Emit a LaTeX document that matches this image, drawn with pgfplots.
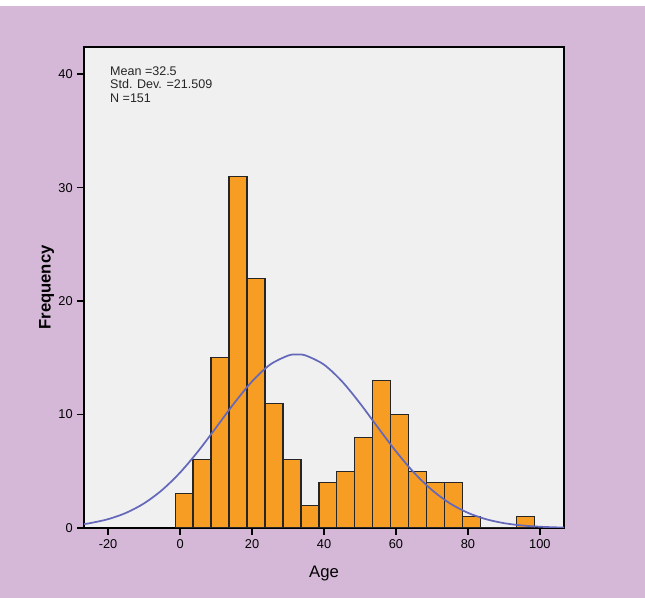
\documentclass[border=0pt]{standalone}
\usepackage{pgfplots}
\pgfplotsset{compat=1.18}
\usepackage{fontspec}
\setmainfont{Liberation Sans}
\definecolor{bgl}{RGB}{213,184,216}
\definecolor{plotbg}{RGB}{240,240,240}
\definecolor{barc}{RGB}{247,157,35}
\definecolor{curvec}{RGB}{100,104,186}
\begin{document}
\begin{tikzpicture}
\useasboundingbox (0pt,0pt) rectangle (483.75pt,448.5pt);
\fill[white] (0pt,0pt) rectangle (483.75pt,448.5pt);
\fill[bgl] (0pt,0pt) rectangle (483.75pt,444pt);
\begin{axis}[
  at={(63pt,52.5pt)}, anchor=south west,
  scale only axis, width=360pt, height=360.75pt,
  xmin=-26.7, xmax=106.7, ymin=0, ymax=42.4,
  axis background/.style={fill=plotbg},
  axis line style={black, line width=1.1pt},
  xtick={-20,0,20,40,60,80,100},
  ytick={0,10,20,30,40},
  xtick pos=bottom, ytick pos=left,
  tick align=outside,
  major tick length=5pt,
  tick style={black, line width=1.1pt},
  /pgf/number format/assume math mode=true,
  ticklabel style={font=\fontsize{9.6}{11}\selectfont},
  xlabel={Age}, ylabel={\textbf{Frequency}},
  label style={font=\fontsize{12.5}{14}\selectfont},
  xlabel style={at={(axis description cs:0.5,0)}, anchor=center, yshift=-34pt},
  ylabel style={at={(axis description cs:0,0.5)}, anchor=center, yshift=28pt},
  clip=true,
]
\addplot[ybar interval, fill=barc, draw=black!85, line width=0.8pt] coordinates {
(-1.4,3) (3.6,6) (8.6,15) (13.6,31) (18.6,22) (23.6,11) (28.6,6) (33.6,2)
(38.6,4) (43.6,5) (48.6,8) (53.6,13) (58.6,10) (63.6,5) (68.6,4) (73.6,4)
(78.6,1) (83.6,0) (88.6,0) (93.6,1) (98.6,0)
};
\addplot[curvec, line width=1.3pt, smooth] coordinates {
(-26.7,0.346) (-25,0.429) (-20,0.778) (-15,1.336) (-10,2.172) (-5,3.347)
(0,4.885) (5,6.756) (10,8.852) (15,10.989) (20,12.923) (25,14.398)
(30,15.197) (32.5,15.3) (35,15.197) (40,14.398) (45,12.923) (50,10.989)
(55,8.852) (60,6.756) (65,4.885) (70,3.347) (75,2.172) (80,1.336)
(85,0.778) (90,0.429) (95,0.224) (100,0.111) (105,0.052) (106.7,0.040)
};
\node[anchor=north west, align=left, inner sep=0pt,
  font=\fontsize{9.4}{10.3}\selectfont, text=black!85]
  at (rel axis cs:0.054,0.96) {Mean =32.5\\Std. Dev. =21.509\\N =151};
\end{axis}
\end{tikzpicture}
\end{document}
